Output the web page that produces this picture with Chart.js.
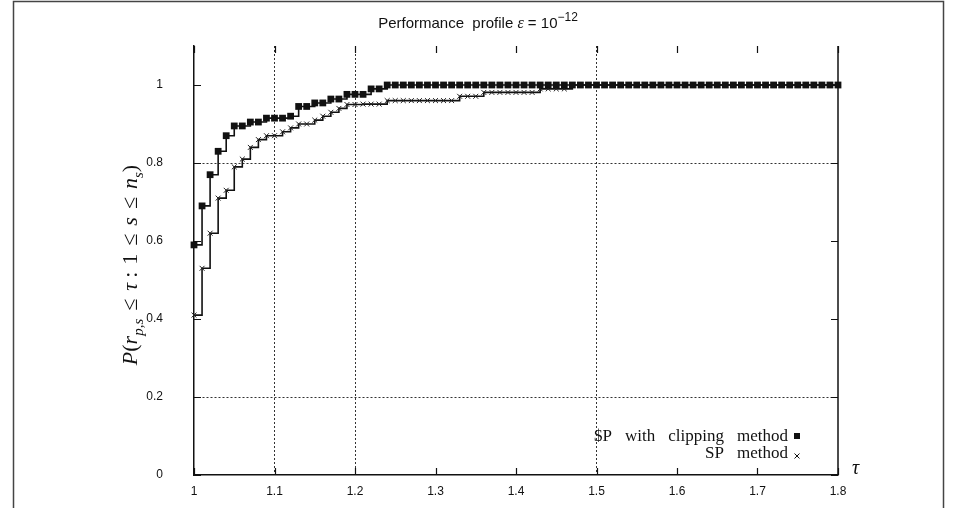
<!DOCTYPE html>
<html>
<head>
<meta charset="utf-8">
<script src="https://cdn.jsdelivr.net/npm/chart.js@4"></script>
<style>
  body { margin: 0; background: #fff; }
  #plot { display: block; }
</style>
</head>
<body>
<canvas id="plot" width="956" height="508"></canvas>
<script>
// tau grid (x values of the profile samples)
const tau = [
  1, 1.01, 1.02, 1.03, 1.04, 1.05, 1.06, 1.07, 1.08, 1.09,
  1.1, 1.11, 1.12, 1.13, 1.14, 1.15, 1.16, 1.17, 1.18, 1.19,
  1.2, 1.21, 1.22, 1.23, 1.24, 1.25, 1.26, 1.27, 1.28, 1.29,
  1.3, 1.31, 1.32, 1.33, 1.34, 1.35, 1.36, 1.37, 1.38, 1.39,
  1.4, 1.41, 1.42, 1.43, 1.44, 1.45, 1.46, 1.47, 1.48, 1.49,
  1.5, 1.51, 1.52, 1.53, 1.54, 1.55, 1.56, 1.57, 1.58, 1.59,
  1.6, 1.61, 1.62, 1.63, 1.64, 1.65, 1.66, 1.67, 1.68, 1.69,
  1.7, 1.71, 1.72, 1.73, 1.74, 1.75, 1.76, 1.77, 1.78, 1.79,
  1.8
];

// SP with clipping method (filled squares)
const clipping = [
  0.59, 0.69, 0.77, 0.83, 0.87, 0.895, 0.895, 0.905, 0.905, 0.915,
  0.915, 0.915, 0.92, 0.945, 0.945, 0.954, 0.954, 0.964, 0.964, 0.976,
  0.976, 0.976, 0.99, 0.99, 1, 1, 1, 1, 1, 1,
  1, 1, 1, 1, 1, 1, 1, 1, 1, 1,
  1, 1, 1, 1, 1, 1, 1, 1, 1, 1,
  1, 1, 1, 1, 1, 1, 1, 1, 1, 1,
  1, 1, 1, 1, 1, 1, 1, 1, 1, 1,
  1, 1, 1, 1, 1, 1, 1, 1, 1, 1,
  1
];

// SP method (crosses)
const spMethod = [
  0.41, 0.53, 0.62, 0.71, 0.73, 0.79, 0.81, 0.84, 0.86, 0.87,
  0.87, 0.88, 0.89, 0.9, 0.9, 0.91, 0.92, 0.93, 0.94, 0.95,
  0.95, 0.951, 0.951, 0.951, 0.96, 0.96, 0.96, 0.96, 0.96, 0.96,
  0.96, 0.96, 0.96, 0.971, 0.971, 0.971, 0.981, 0.981, 0.981, 0.981,
  0.981, 0.981, 0.981, 0.99, 0.99, 0.99, 0.99, 1, 1, 1,
  1, 1, 1, 1, 1, 1, 1, 1, 1, 1,
  1, 1, 1, 1, 1, 1, 1, 1, 1, 1,
  1, 1, 1, 1, 1, 1, 1, 1, 1, 1,
  1
];

const xTicks = [1, 1.1, 1.2, 1.3, 1.4, 1.5, 1.6, 1.7, 1.8];
const yTicks = [0, 0.2, 0.4, 0.6, 0.8, 1];
const xGrid = [1.1, 1.2, 1.5];
const yGrid = [0.2, 0.8];

const seriesNames = ['$P with clipping method', 'SP method'];

const INK = '#111';
const SANS = '"Liberation Sans Narrow", "Liberation Sans", Arial, sans-serif';
const SERIF = '"Liberation Serif", "Times New Roman", serif';

const pts = ys => tau.map((t, i) => ({ x: t, y: ys[i] }));
const onList = (list, v) => list.some(g => Math.abs(g - v) < 1e-6);

// draw a row of text runs (font, text, baseline shift, extra gap after), starting at x
function drawRuns(ctx, runs, x, y) {
  runs.forEach(r => {
    ctx.font = r.f;
    ctx.fillText(r.t, x, y + (r.dy || 0));
    x += ctx.measureText(r.t).width + (r.gap || 0);
  });
}
function runsWidth(ctx, runs) {
  return runs.reduce((w, r) => { ctx.font = r.f; return w + ctx.measureText(r.t).width + (r.gap || 0); }, 0);
}
// words of a label with wide word gaps like the original
function wordRuns(text, font, gap) {
  return text.split(' ').map((w, i, arr) => ({ t: w, f: font, gap: i < arr.length - 1 ? gap : 0 }));
}

const decorations = {
  id: 'decorations',
  afterDatasetsDraw(chart) {
    const ctx = chart.ctx;
    const a = chart.chartArea;
    const xs = chart.scales.x, ys = chart.scales.y;
    ctx.save();
    ctx.strokeStyle = INK;
    ctx.fillStyle = INK;

    // right border
    ctx.lineWidth = 1.5;
    ctx.beginPath();
    ctx.moveTo(a.right, a.top);
    ctx.lineTo(a.right, a.bottom);
    ctx.stroke();

    // inward tick marks on all four sides
    ctx.lineWidth = 1.2;
    ctx.beginPath();
    xTicks.forEach(v => {
      const px = Math.round(xs.getPixelForValue(v)) + 0.5;
      ctx.moveTo(px, a.bottom); ctx.lineTo(px, a.bottom - 7);
      ctx.moveTo(px, a.top); ctx.lineTo(px, a.top + 7);
    });
    yTicks.forEach(v => {
      const py = Math.round(ys.getPixelForValue(v)) + 0.5;
      ctx.moveTo(a.left, py); ctx.lineTo(a.left + 7, py);
      ctx.moveTo(a.right, py); ctx.lineTo(a.right - 7, py);
    });
    ctx.stroke();

    // title
    const tRuns = [
      { t: 'Performance  profile ', f: '15px ' + SANS },
      { t: 'ε', f: 'italic 16px ' + SERIF },
      { t: ' = 10', f: '15px ' + SANS },
      { t: '−12', f: '12px ' + SANS, dy: -7 }
    ];
    ctx.textBaseline = 'alphabetic';
    ctx.textAlign = 'left';
    drawRuns(ctx, tRuns, 478 - runsWidth(ctx, tRuns) / 2, 28);

    // y axis title
    const it = 'italic 22px ' + SERIF, up = '22px ' + SERIF, sub = 'italic 15px ' + SERIF;
    const yRuns = [
      { t: 'P', f: it }, { t: '(', f: up }, { t: 'r', f: it }, { t: 'p,s', f: sub, dy: 6, gap: 8 },
      { t: '≤', f: up, gap: 8 }, { t: 'τ', f: it, gap: 5 }, { t: ':', f: up, gap: 7 }, { t: '1', f: up, gap: 8 },
      { t: '≤', f: up, gap: 8 }, { t: 's', f: it, gap: 8 },
      { t: '≤', f: up, gap: 8 }, { t: 'n', f: it }, { t: 's', f: sub, dy: 6 }, { t: ')', f: up }
    ];
    ctx.save();
    ctx.translate(137, 265);
    ctx.rotate(-Math.PI / 2);
    drawRuns(ctx, yRuns, -runsWidth(ctx, yRuns) / 2, 0);
    ctx.restore();

    // x axis title
    ctx.font = 'italic 20px ' + SERIF;
    ctx.fillText('τ', 852, 474);

    // key
    const keyFont = '17px ' + SERIF;
    const k1 = wordRuns(seriesNames[0], keyFont, 13);
    const k2 = wordRuns(seriesNames[1], keyFont, 13);
    drawRuns(ctx, k1, 788 - runsWidth(ctx, k1), 441);
    drawRuns(ctx, k2, 788 - runsWidth(ctx, k2), 458);
    ctx.fillRect(794, 433, 6, 6);
    ctx.lineWidth = 1;
    ctx.beginPath();
    ctx.moveTo(794.5, 453.5); ctx.lineTo(799.5, 458.5);
    ctx.moveTo(799.5, 453.5); ctx.lineTo(794.5, 458.5);
    ctx.stroke();

    // outer frame
    ctx.strokeStyle = '#444';
    ctx.lineWidth = 1.5;
    ctx.strokeRect(13.5, 1.5, 930, 530);
    ctx.restore();
  }
};

new Chart(document.getElementById('plot'), {
  type: 'line',
  data: {
    datasets: [
      {
        label: seriesNames[0],
        data: pts(clipping),
        stepped: 'before',
        borderColor: INK,
        borderWidth: 1.6,
        pointStyle: 'rect',
        pointRadius: 4.8,
        pointBackgroundColor: INK,
        pointBorderColor: INK,
        pointBorderWidth: 0,
        clip: 8
      },
      {
        label: seriesNames[1],
        data: pts(spMethod),
        stepped: 'before',
        borderColor: INK,
        borderWidth: 1.6,
        pointStyle: 'crossRot',
        pointRadius: 3.5,
        pointBorderColor: '#222',
        pointBorderWidth: 1,
        clip: 8
      }
    ]
  },
  options: {
    responsive: false,
    animation: false,
    devicePixelRatio: 1,
    layout: { padding: { left: 0, right: 118, top: 46, bottom: 0 } },
    plugins: { legend: { display: false }, tooltip: { enabled: false } },
    scales: {
      x: {
        type: 'linear',
        min: 1,
        max: 1.8,
        afterBuildTicks: s => { s.ticks = xTicks.map(v => ({ value: v })); },
        afterFit: s => { s.height = 33; s.paddingLeft = 0; s.paddingRight = 0; },
        ticks: {
          padding: 9,
          color: INK,
          font: { family: SANS, size: 12 },
          maxRotation: 0,
          callback: v => String(v)
        },
        grid: {
          drawTicks: false,
          color: c => (c.tick && onList(xGrid, c.tick.value) ? '#333' : 'rgba(0,0,0,0)'),
          lineWidth: 1
        },
        border: { display: true, color: INK, width: 1.5, dash: [2, 2] }
      },
      y: {
        type: 'linear',
        min: 0,
        max: 1.1,
        afterBuildTicks: s => { s.ticks = yTicks.map(v => ({ value: v })); },
        // keep the wide label gap from padding out the top and bottom of the plot
        afterFit: s => { s.width = 194; s.paddingTop = 0; s.paddingBottom = 0; },
        ticks: {
          padding: 31,
          color: INK,
          font: { family: SANS, size: 12 },
          callback: v => String(v)
        },
        grid: {
          drawTicks: false,
          color: c => (c.tick && onList(yGrid, c.tick.value) ? '#333' : 'rgba(0,0,0,0)'),
          lineWidth: 1
        },
        border: { display: true, color: INK, width: 1.5, dash: [2, 2] }
      }
    }
  },
  plugins: [decorations]
});
</script>
</body>
</html>
